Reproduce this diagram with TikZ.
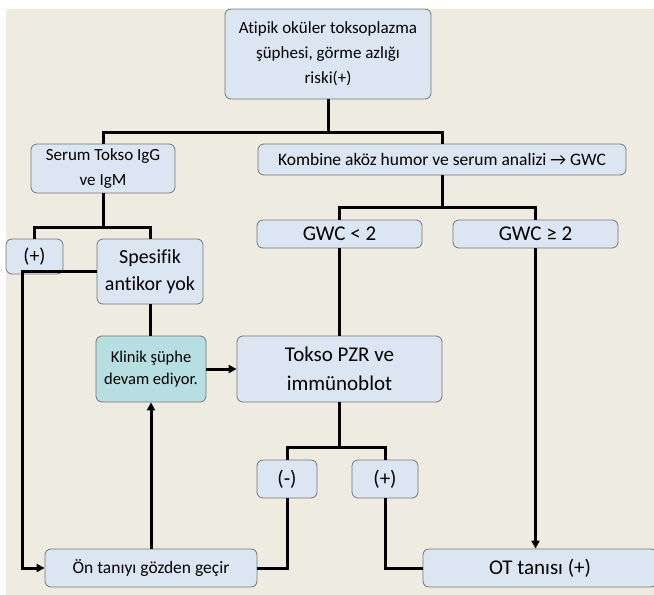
\documentclass[tikz,border=0pt]{standalone}
\usepackage{fontspec}
\setmainfont{Carlito}[Ligatures=NoCommon]
\usetikzlibrary{arrows.meta}
\definecolor{bgbeige}{HTML}{EEEBE1}
\definecolor{boxblue}{HTML}{DCE6F2}
\definecolor{boxteal}{HTML}{B7DEE1}
\definecolor{edgegray}{HTML}{767676}
\begin{document}
\begin{tikzpicture}[x=1pt,y=-1pt,
  box/.style={draw=edgegray,fill=boxblue,rounded corners=6pt,
    align=center,inner sep=0pt,line width=0.8pt},
  link/.style={line width=3pt},
  >={Triangle[length=8pt,width=8pt]}]
\useasboundingbox (0,0) rectangle (654,595);
\fill[bgbeige] (6,9) rectangle (654,595);
\node[box,minimum width=206pt,minimum height=90pt,
  font=\fontsize{17}{25}\selectfont] (suspect) at (328,54)
  {Atipik oküler toksoplazma\\şüphesi, görme azlığı\\riski(+)};
\node[box,minimum width=144pt,minimum height=49pt,
  font=\fontsize{17}{25}\selectfont] (serum) at (103,168.5)
  {Serum Tokso IgG\\ve IgM};
\node[box,minimum width=368pt,minimum height=31pt,
  font=\fontsize{17.5}{21}\selectfont] (combine) at (442,159.5)
  {Kombine aköz humor ve serum analizi → GWC};
\node[box,minimum width=57pt,minimum height=35pt,
  font=\fontsize{20}{24}\selectfont] (serpos) at (34.5,256.5) {(+)};
\node[box,minimum width=106pt,minimum height=65pt,
  font=\fontsize{20}{27}\selectfont] (noab) at (150,271.5)
  {Spesifik\\antikor yok};
\node[box,minimum width=165pt,minimum height=28pt,
  font=\fontsize{21}{24}\selectfont] (gwclow) at (339.5,234) {GWC < 2};
\node[box,minimum width=165pt,minimum height=28pt,
  font=\fontsize{21}{24}\selectfont] (gwchigh) at (535.5,234) {GWC ≥ 2};
\node[box,fill=boxteal,minimum width=110pt,minimum height=66pt,
  font=\fontsize{16.5}{22}\selectfont] (clinic) at (151,369)
  {Klinik şüphe\\devam ediyor.};
\node[box,minimum width=205pt,minimum height=66pt,
  font=\fontsize{21}{29}\selectfont] (pcr) at (339.5,369)
  {Tokso PZR ve\\immünoblot};
\node[box,minimum width=60pt,minimum height=38pt,
  font=\fontsize{21}{24}\selectfont] (pcrneg) at (287,479) {(-)};
\node[box,minimum width=66pt,minimum height=38pt,
  font=\fontsize{21}{24}\selectfont] (pcrpos) at (385,479) {(+)};
\node[box,minimum width=212pt,minimum height=38pt,
  font=\fontsize{17.5}{21}\selectfont] (review) at (151,568)
  {Ön tanıyı gözden geçir};
\node[box,minimum width=234pt,minimum height=38pt,
  font=\fontsize{21}{24}\selectfont] (otpos) at (540,568) {OT tanısı (+)};
% junctions of the tree
\coordinate (j1) at (328,132);
\coordinate (j2) at (103,227);
\coordinate (j3) at (442,207);
\coordinate (j4) at (339.5,447);
\coordinate (rail) at (22,271.5);
\draw[link] (suspect.south) -- (j1);
\draw[link] (serum.north) |- (j1) -| (combine.north);
\draw[link] (serum.south) -- (j2);
\draw[link] (serpos.north) |- (j2) -| (noab.north);
\draw[link,->] (noab.west) -- (rail) |- (review.west);
\draw[link] (noab.south) -- (noab.south |- clinic.north);
\draw[link,->] (review.north) -- (clinic.south);
\draw[link,->] (clinic.east) -- (pcr.west);
\draw[link] (combine.south) -- (j3);
\draw[link] (gwclow.north) |- (j3) -| (gwchigh.north);
\draw[link] (gwclow.south) -- (pcr.north);
\draw[link,->] (gwchigh.south) -- (otpos.north -| gwchigh.south);
\draw[link] (pcr.south) -- (j4);
\draw[link] (pcrneg.north) |- (j4) -| (pcrpos.north);
\draw[link] (pcrneg.south) |- (review.east);
\draw[link] (pcrpos.south) |- (otpos.west);
\end{tikzpicture}
\end{document}
